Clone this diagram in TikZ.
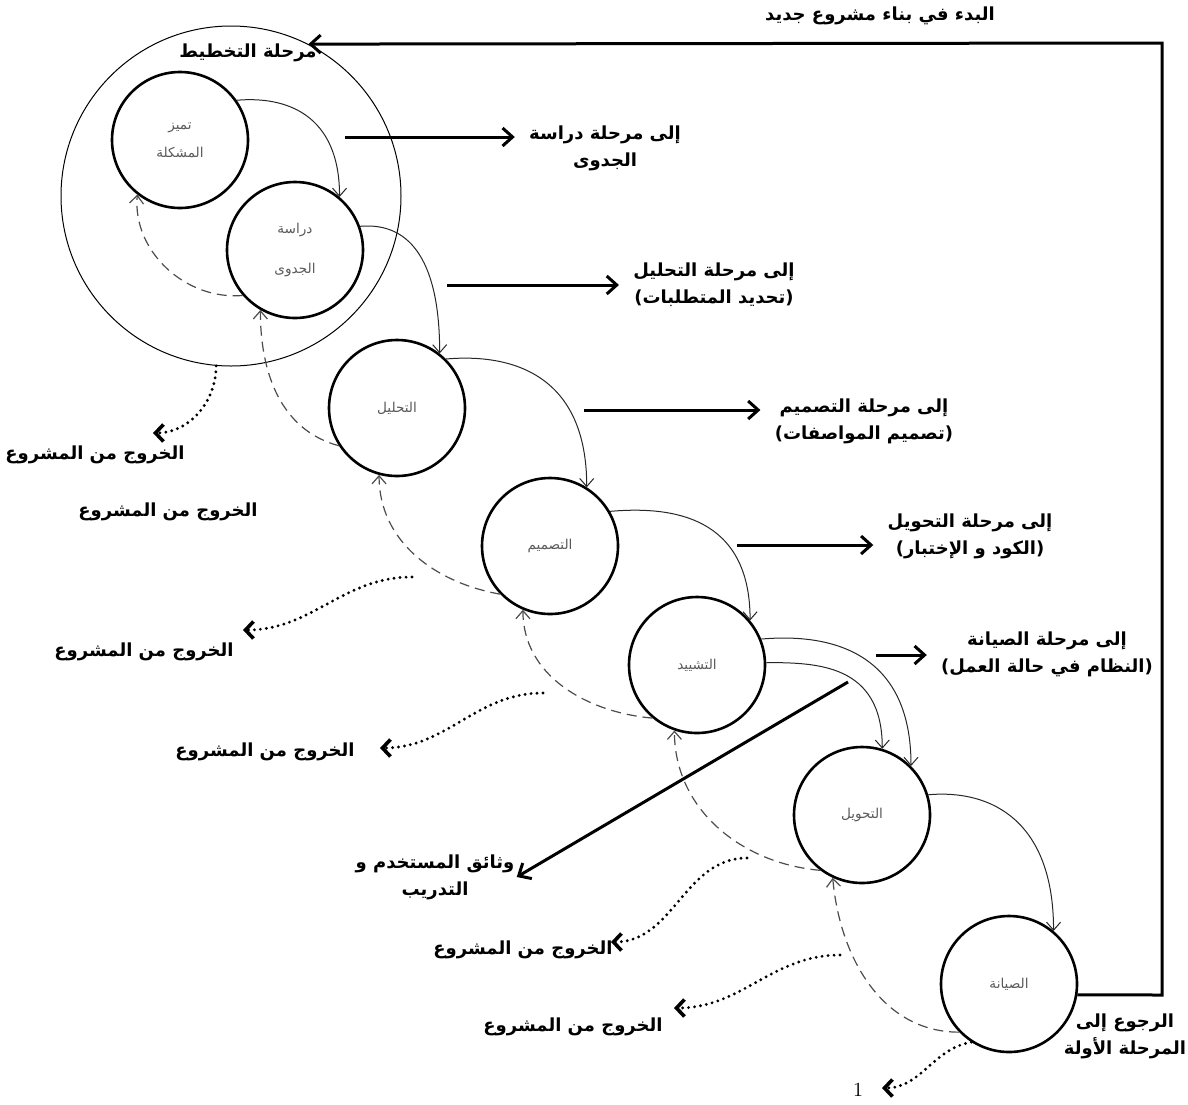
\documentclass[tikz,border=0pt]{standalone}
\usepackage{fontspec}
\usepackage{tikz}
\usetikzlibrary{arrows.meta}
\TeXXeTstate=1
\newfontfamily\arabicfont[Script=Arabic]{DejaVu Sans}
\newcommand{\ar}[1]{\beginR#1\endR}

\begin{document}
\begin{tikzpicture}[
    x=0.5pt, y=0.5pt,
    phase node/.style={circle,draw,line width=1.3pt,minimum size=68pt,inner sep=0pt,align=center,text=black!65,font=\arabicfont\fontsize{6.8}{8}\selectfont},
    label node/.style={align=center,inner sep=1pt,font=\arabicfont\bfseries\fontsize{9}{13.5}\selectfont},
    flow edge/.style={-{Straight Barb[length=4pt,width=7pt]},line width=0.5pt,black!85,out looseness=0.9,in looseness=1.5},
    back edge/.style={-{Straight Barb[length=4pt,width=7pt]},dash pattern=on 5pt off 3pt,line width=0.6pt,black!70},
    next edge/.style={-{Straight Barb[length=5pt,width=9pt]},line width=1.5pt,shorten >=6pt},
    exit edge/.style={-{Straight Barb[length=4pt,width=8.5pt,line width=1.8pt]},dash pattern=on 0pt off 3pt,line cap=round,line width=1.6pt}
]
    \useasboundingbox (0,0) rectangle (1188,-1104);

    % phases
    \node[draw,circle,minimum size=170pt,line width=0.5pt] (plan) at (231,-196) {};
    \node[phase node] (1) at (180,-140) {\ar{تميز}\\[6pt]\ar{المشكلة}};
    \node[phase node] (2) at (295,-250) {\ar{دراسة}\\[12pt]\ar{الجدوى}};
    \node[phase node] (3) at (397,-408) {\ar{التحليل}};
    \node[phase node] (4) at (550,-546) {\ar{التصميم}};
    \node[phase node] (5) at (697,-665) {\ar{التشييد}};
    \node[phase node] (6) at (862,-815) {\ar{التحويل}};
    \node[phase node] (7) at (1009,-984) {\ar{الصيانة}};

    % labels
    \node[label node] (start) at (880,-16) {\ar{البدء في بناء مشروع جديد}};
    \node[label node] (planlab) at (248,-53) {\ar{مرحلة التخطيط}};
    \node[label node] (to2) at (605,-148) {\ar{إلى مرحلة دراسة}\\\ar{الجدوى}};
    \node[label node] (to3) at (714,-285) {\ar{إلى مرحلة التحليل}\\\ar{(تحديد  المتطلبات)}};
    \node[label node] (to4) at (864,-421) {\ar{إلى مرحلة التصميم}\\\ar{(تصميم  المواصفات)}};
    \node[label node] (to5) at (970,-536) {\ar{إلى مرحلة التحويل}\\\ar{(الكود و الإختبار)}};
    \node[label node] (to6) at (1047,-654) {\ar{إلى مرحلة الصيانة}\\\ar{(النظام في حالة العمل)}};
    \node[label node] (doc) at (435,-877) {\ar{وثائق  المستخدم و}\\\ar{التدريب}};
    \node[label node] (return) at (1125,-1036) {\ar{الرجوع إلى}\\\ar{المرحلة الأولة}};
    \node[label node] (x1) at (95,-455) {\ar{الخروج من المشروع}};
    \node[label node] (x2) at (168,-512) {\ar{الخروج من المشروع}};
    \node[label node] (x3) at (144,-652) {\ar{الخروج من المشروع}};
    \node[label node] (x4) at (265,-752) {\ar{الخروج من المشروع}};
    \node[label node] (x5) at (523,-950) {\ar{الخروج من المشروع}};
    \node[label node] (x6) at (573,-1027) {\ar{الخروج من المشروع}};
    \node[inner sep=1pt] (one) at (858,-1090) {1};

    % flow to next phase
    \draw[flow edge] (1.35) to[out=5,in=90] (2.50);
    \draw[flow edge] (2.20) to[out=5,in=90] (3.52);
    \draw[flow edge] (3.45) to[out=5,in=90] (4.58);
    \draw[flow edge] (4.30) to[out=5,in=90] (5.40);
    \draw[flow edge] (5.22) to[out=5,in=90] (6.45);
    \draw[flow edge] (5.2) to[out=0,in=90] (6.73);
    \draw[flow edge] (6.17) to[out=5,in=90] (7.50);

    % going back
    \draw[back edge] (2.221) to[out=185,in=-95] (1.232);
    \draw[back edge] (3.213) to[out=165,in=-90] (2.240);
    \draw[back edge] (4.224) to[out=170,in=-90] (3.255);
    \draw[back edge] (5.230) to[out=175,in=-90] (4.247);
    \draw[back edge] (6.233) to[out=175,in=-90] (5.251);
    \draw[back edge] (7.224) to[out=180,in=-85] (6.245);

    % outputs
    \coordinate (o1) at (345,-137);
    \coordinate (o2) at (447,-285);
    \coordinate (o3) at (584,-410);
    \coordinate (o4) at (737,-545);
    \coordinate (o5) at (876,-655);
    \coordinate (o6) at (848,-682);
    \draw[next edge] (o1) -- (o1 -| to2.west);
    \draw[next edge] (o2) -- (o2 -| to3.west);
    \draw[next edge] (o3) -- (o3 -| to4.west);
    \draw[next edge] (o4) -- (o4 -| to5.west);
    \draw[next edge] (o5) -- (o5 -| to6.west);
    \draw[next edge,shorten >=0pt] (o6) -- (doc.east);

    % start again
    \coordinate (corner low) at (1162,-995);
    \coordinate (corner top) at (1162,-43);
    \draw[next edge,shorten >=0pt] (7.-9) -- (corner low) -- (corner top) -- (plan.63);

    % leaving the project
    \coordinate (e3) at (412,-577);
    \coordinate (e4) at (543,-693);
    \coordinate (e5) at (747,-858);
    \coordinate (e6) at (840,-955);
    \coordinate (t1) at (153,-433);
    \coordinate (t3) at (243,-630);
    \coordinate (t4) at (380,-748);
    \coordinate (t5) at (611,-942);
    \coordinate (t6) at (674,-1008);
    \coordinate (t7) at (882,-1088);
    \draw[exit edge] (plan.265) to[out=-90,in=0] (t1);
    \draw[exit edge] (e3) to[out=180,in=0] (t3);
    \draw[exit edge] (e4) to[out=180,in=0] (t4);
    \draw[exit edge] (e5) to[out=180,in=0] (t5);
    \draw[exit edge] (e6) to[out=180,in=0] (t6);
    \draw[exit edge] (7.237) to[out=190,in=0] (t7);
\end{tikzpicture}
\end{document}
